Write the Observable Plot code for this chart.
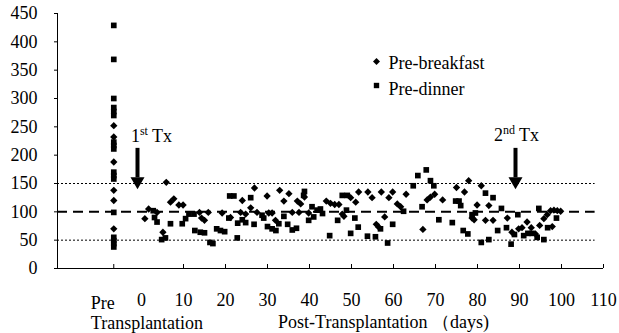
<!DOCTYPE html>
<html><head><meta charset="utf-8">
<script src="https://cdn.jsdelivr.net/npm/d3@7"></script>
<script src="https://cdn.jsdelivr.net/npm/@observablehq/plot@0.6"></script>
<style>body{margin:0;background:#fff} svg{display:block}</style>
</head><body><div id="chart"></div>
<script>
// ---- data ----
const seriesNames = ["Pre-breakfast", "Pre-dinner"];
const preDay = -6.6; // position of the "Pre Transplantation" column
const preBreakfastVals = [252, 232, 188, 138, 120, 70];
const preDinnerVals = [429, 369, 300, 284, 277, 270, 223, 217, 211, 170, 164, 158, 99, 55, 49, 44, 38];

const breakfastDays = [0.8,1.7,3.7,5.1,5.9,6.9,7.7,8.9,9.9,13.8,14.3,15.0,15.9,19.2,21.2,23.6,24.0,24.8,26.0,26.9,27.5,29.9,30.3,31.1,31.9,32.9,33.9,35.1,35.9,37.1,37.5,37.9,38.8,39.8,44.0,45.0,46.0,47.0,47.8,48.2,49.8,51.0,51.7,53.9,54.9,55.9,56.5,57.1,57.9,58.9,59.8,60.9,61.7,63.0,67.0,68.0,68.8,69.8,71.7,75.0,76.9,77.9,78.7,79.2,79.9,80.9,81.9,82.7,83.7,87.1,88.2,89.8,90.6,91.8,92.8,93.8,94.8,95.8,96.6,97.4,97.8,98.2,99.0,99.8];
const breakfastVals = [88,105,99,64,152,117,123,112,112,99,89,85,99,98,90,99,120,96,107,142,99,128,98,98,85,138,119,132,99,119,99,114,126,98,119,115,113,113,96,92,125,117,135,135,125,78,73,135,91,125,135,114,109,131,69,121,126,131,121,143,135,155,89,86,112,146,85,111,85,89,64,70,72,82,72,61,76,88,95,102,74,103,102,101];

const dinnerDays = [2.8,3.1,3.7,4.8,5.7,6.9,9.7,10.5,11.3,12.5,12.7,14.0,15.0,16.3,17.0,17.9,18.8,19.8,20.8,21.0,22.0,22.8,22.9,24.0,24.8,26.0,26.8,28.7,29.1,30.0,31.1,32.0,32.7,33.9,34.8,35.9,36.9,38.6,38.8,39.8,40.6,41.0,41.8,42.6,43.1,44.8,46.7,47.8,48.8,49.0,49.8,50.8,51.6,53.8,55.7,56.9,58.6,59.8,62.4,64.7,65.8,66.8,67.8,68.8,69.6,70.8,74.0,74.8,75.6,76.0,76.6,77.7,78.7,79.5,80.9,81.9,82.7,83.7,84.8,85.7,86.9,88.0,88.8,89.6,91.0,92.0,93.0,94.2,94.6,95.8,96.7,98.8];
const dinnerVals = [102,90,82,51,54,79,79,88,96,96,67,64,63,46,44,70,67,65,89,128,128,54,80,86,81,125,78,94,89,74,70,67,79,92,78,68,71,129,136,85,109,91,103,105,97,58,85,129,103,129,62,89,73,57,56,70,45,78,101,146,164,109,174,155,146,86,81,119,119,111,67,61,95,98,46,133,51,125,67,106,72,43,60,95,58,62,62,55,106,51,72,89];

const yTicks = [0, 50, 100, 150, 200, 250, 300, 350, 400, 450];
const xTickDays = [10, 20, 30, 40, 50, 60, 70, 80, 90, 100, 110];
const xLabelDays = [0, 10, 20, 30, 40, 50, 60, 70, 80, 90, 100, 110];
const preLabel = "Pre\nTransplantation";
const xTitle = "Post-Transplantation （days)";
const targetLevel = [100];
const rangeLevels = [50, 150];
const txDays = [0, 90];
const txLabels = ["1st Tx", "2nd Tx"];

// ---- table ----
const rows = [
  ...preBreakfastVals.map(v => ({day: preDay, value: v, series: seriesNames[0]})),
  ...preDinnerVals.map(v => ({day: preDay, value: v, series: seriesNames[1]})),
  ...breakfastDays.map((d, i) => ({day: d, value: breakfastVals[i], series: seriesNames[0]})),
  ...dinnerDays.map((d, i) => ({day: d, value: dinnerVals[i], series: seriesNames[1]}))
];
const symbolOf = {"Pre-breakfast": "diamond2", "Pre-dinner": "square"};
const rOf = {"Pre-breakfast": 3.3, "Pre-dinner": 3.2};

const black = "#000";
const marks = [
  Plot.ruleY(rangeLevels, {x1: -20, x2: 108, stroke: black, strokeWidth: 1, strokeDasharray: "2,2"}),
  Plot.ruleY(targetLevel, {x1: -20, x2: 108, stroke: black, strokeWidth: 2, strokeDasharray: "10,6"}),
  Plot.ruleX([-20], {stroke: black, strokeWidth: 1}),
  Plot.ruleY([0], {stroke: black, strokeWidth: 1}),
  Plot.axisY(yTicks, {tickSize: 3, tickPadding: 17, label: null, stroke: black, fill: black}),
  Plot.tickX([preDay, ...xTickDays], {x: d => d, insetTop: 251, stroke: black}),
  Plot.text(xLabelDays, {x: d => d, text: d => String(d), frameAnchor: "bottom", lineAnchor: "middle", dy: 32, fill: black}),
  Plot.text([preLabel], {x: preDay, frameAnchor: "bottom", lineAnchor: "middle", textAnchor: "start", dx: -23, dy: 44, lineHeight: 1.11, fill: black}),
  Plot.text([xTitle], {frameAnchor: "bottom", lineAnchor: "middle", dx: 53, dy: 54, fill: black}),
  ...seriesNames.map(s => Plot.dot(rows.filter(r => r.series === s), {x: "day", y: "value", symbol: () => symbolOf[s], fill: black, stroke: "none", r: rOf[s]})),
  Plot.ruleX(txDays, {x: d => d, y1: 212, y2: 160, stroke: black, strokeWidth: 4, dx: -4}),
  Plot.dot(txDays, {x: d => d, y: 154, symbol: "triangle", rotate: 180, r: 5.2, fill: black, dx: -4}),
  Plot.text([txLabels[0]], {x: txDays[0], y: 234, dx: 10, lineAnchor: "middle", fill: black}),
  Plot.text([txLabels[1]], {x: txDays[1], y: 236, dx: -3, lineAnchor: "middle", fill: black}),
  ...seriesNames.map((s, i) => Plot.dot([s], {frameAnchor: "top-left", dx: 319, dy: 48 + 24 * i, symbol: symbolOf[s], r: rOf[s] * 0.95, fill: black})),
  ...seriesNames.map((s, i) => Plot.text([s], {frameAnchor: "top-left", text: d => d, textAnchor: "start", lineAnchor: "middle", dx: 331, dy: 50 + 26 * i, fill: black}))
];

const chart = Plot.plot({
  width: 619,
  height: 333,
  marginTop: 13,
  marginBottom: 65,
  marginLeft: 57,
  marginRight: 16,
  x: {domain: [-20, 110], axis: null},
  y: {domain: [0, 450]},
  symbol: {type: "identity"},
  style: "font-family: 'Liberation Serif', 'Times New Roman', serif; font-size: 18px; background: #fff; color: #000;",
  marks
});
chart.setAttribute("font-family", "Liberation Serif, serif");
chart.setAttribute("font-size", "18");

// superscripts for "1st" / "2nd"
d3.select(chart).selectAll("text").each(function() {
  const t = this.textContent;
  const m = /^(\d)(st|nd) (Tx)$/.exec(t);
  if (m && this.childElementCount === 0) {
    this.textContent = m[1];
    const sup = document.createElementNS("http://www.w3.org/2000/svg", "tspan");
    sup.setAttribute("dy", "-7");
    sup.setAttribute("font-size", "12");
    sup.textContent = m[2];
    const rest = document.createElementNS("http://www.w3.org/2000/svg", "tspan");
    rest.setAttribute("dy", "7");
    rest.textContent = " " + m[3];
    this.appendChild(sup);
    this.appendChild(rest);
  }
});

document.getElementById("chart").appendChild(chart);
</script>
</body></html>
